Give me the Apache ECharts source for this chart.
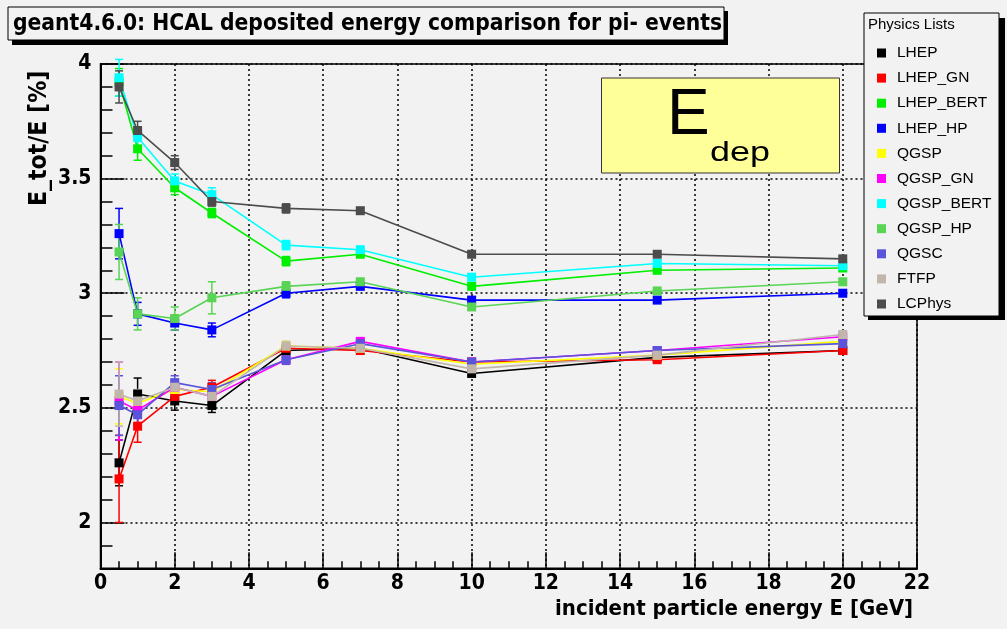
<!DOCTYPE html>
<html><head><meta charset="utf-8">
<script src="https://cdn.jsdelivr.net/npm/echarts@6/dist/echarts.min.js"></script>
<style>html,body{margin:0;padding:0;background:#f2f2f2}#c{width:1007px;height:629px}</style>
</head><body><div id="c"></div>
<script>
// ---- data ----
const energies = [0.5, 1, 2, 3, 5, 7, 10, 15, 20];
const seriesNames = ['LHEP','LHEP_GN','LHEP_BERT','LHEP_HP','QGSP','QGSP_GN','QGSP_BERT','QGSP_HP','QGSC','FTFP','LCPhys'];
const LHEP      = [2.26, 2.56, 2.53, 2.51, 2.75, 2.76, 2.65, 2.72, 2.75];
const LHEP_GN   = [2.19, 2.42, 2.55, 2.59, 2.76, 2.75, 2.70, 2.71, 2.75];
const LHEP_BERT = [3.92, 3.63, 3.46, 3.35, 3.14, 3.17, 3.03, 3.10, 3.11];
const LHEP_HP   = [3.26, 2.91, 2.87, 2.84, 3.00, 3.03, 2.97, 2.97, 3.00];
const QGSP      = [2.55, 2.52, 2.58, 2.57, 2.77, 2.76, 2.69, 2.73, 2.79];
const QGSP_GN   = [2.53, 2.49, 2.59, 2.55, 2.71, 2.79, 2.70, 2.75, 2.81];
const QGSP_BERT = [3.94, 3.68, 3.49, 3.43, 3.21, 3.19, 3.07, 3.13, 3.12];
const QGSP_HP   = [3.18, 2.91, 2.89, 2.98, 3.03, 3.05, 2.94, 3.01, 3.05];
const QGSC      = [2.51, 2.47, 2.61, 2.58, 2.71, 2.78, 2.70, 2.75, 2.78];
const FTFP      = [2.56, 2.53, 2.59, 2.55, 2.77, 2.76, 2.67, 2.73, 2.82];
const LCPhys    = [3.90, 3.71, 3.57, 3.40, 3.37, 3.36, 3.17, 3.17, 3.15];
// statistical errors (half widths)
const ERR_LHEP      = [0.10, 0.07, 0.04, 0.03, 0.02, 0.01, 0.01, 0.01, 0.01];
const ERR_LHEP_GN   = [0.19, 0.07, 0.03, 0.03, 0.02, 0.01, 0.01, 0.01, 0.01];
const ERR_LHEP_BERT = [0.06, 0.05, 0.03, 0.02, 0.02, 0.01, 0.01, 0.01, 0.01];
const ERR_LHEP_HP   = [0.11, 0.05, 0.03, 0.03, 0.02, 0.01, 0.01, 0.01, 0.01];
const ERR_QGSP      = [0.12, 0.05, 0.03, 0.03, 0.02, 0.01, 0.01, 0.01, 0.01];
const ERR_QGSP_GN   = [0.17, 0.06, 0.03, 0.03, 0.02, 0.01, 0.01, 0.01, 0.01];
const ERR_QGSP_BERT = [0.08, 0.04, 0.03, 0.03, 0.02, 0.01, 0.01, 0.01, 0.01];
const ERR_QGSP_HP   = [0.12, 0.07, 0.05, 0.07, 0.02, 0.01, 0.01, 0.01, 0.01];
const ERR_QGSC      = [0.13, 0.05, 0.03, 0.03, 0.02, 0.01, 0.01, 0.01, 0.01];
const ERR_FTFP      = [0.14, 0.05, 0.03, 0.03, 0.02, 0.01, 0.01, 0.01, 0.01];
const ERR_LCPhys    = [0.07, 0.04, 0.03, 0.02, 0.02, 0.01, 0.01, 0.01, 0.01];
const yTickValues = [2, 2.5, 3, 3.5, 4];

const values = [LHEP, LHEP_GN, LHEP_BERT, LHEP_HP, QGSP, QGSP_GN, QGSP_BERT, QGSP_HP, QGSC, FTFP, LCPhys];
const errors = [ERR_LHEP, ERR_LHEP_GN, ERR_LHEP_BERT, ERR_LHEP_HP, ERR_QGSP, ERR_QGSP_GN, ERR_QGSP_BERT, ERR_QGSP_HP, ERR_QGSC, ERR_FTFP, ERR_LCPhys];
const colors = ['#000000','#ff0000','#00ee00','#0000ff','#ffff00','#ff00ff','#00ffff','#59d454','#5954d9','#c0b6ac','#4c4c4c'];

const BOLD = "'DejaVu Sans Condensed','Liberation Sans',sans-serif";
const REG = "'Liberation Sans',Arial,sans-serif";

const series = [];
seriesNames.forEach((name, i) => {
  series.push({
    type: 'custom', name: name + '_err', silent: true, z: 2,
    data: energies.map((e, k) => [e, values[i][k] - errors[i][k], values[i][k] + errors[i][k]]),
    renderItem: function (params, api) {
      const a = api.coord([api.value(0), api.value(1)]);
      const b = api.coord([api.value(0), api.value(2)]);
      const st = { stroke: colors[i], lineWidth: 1.5 };
      return { type: 'group', children: [
        { type: 'line', shape: { x1: a[0], y1: a[1], x2: b[0], y2: b[1] }, style: st },
        { type: 'line', shape: { x1: a[0] - 4, y1: a[1], x2: a[0] + 4, y2: a[1] }, style: st },
        { type: 'line', shape: { x1: b[0] - 4, y1: b[1], x2: b[0] + 4, y2: b[1] }, style: st }
      ]};
    }
  });
  series.push({
    type: 'line', name: name, z: 3,
    data: energies.map((e, k) => [e, values[i][k]]),
    symbol: 'rect', symbolSize: 9,
    lineStyle: { color: colors[i], width: 1.6 },
    itemStyle: { color: colors[i] },
    emphasis: { disabled: true }
  });
});

const chart = echarts.init(document.getElementById('c'), null, { renderer: 'canvas' });
chart.setOption({
  backgroundColor: '#f2f2f2',
  animation: false,
  color: colors,
  grid: { left: 100.5, top: 64, width: 816.5, height: 504.3, outerBoundsMode: 'none', containLabel: false, show: true, borderColor: '#000', borderWidth: 1.5, backgroundColor: 'transparent' },
  legend: {
    data: seriesNames, orient: 'vertical', left: 872, top: 40, z: 30,
    icon: 'rect', itemWidth: 9, itemHeight: 9, itemGap: 9.1,
    textStyle: { fontFamily: REG, fontSize: 15.5, color: '#000', padding: [0, 0, 0, 6] },
    selectedMode: false
  },
  xAxis: {
    type: 'value', min: 0, max: 22, interval: 2,
    name: 'incident particle energy E [GeV]', nameLocation: 'end', nameGap: -4,
    nameTextStyle: { fontFamily: BOLD, fontWeight: 'bold', fontSize: 22, color: '#000', align: 'right', verticalAlign: 'top', padding: [30, 0, 0, 0] },
    axisLine: { show: true, onZero: false, lineStyle: { color: '#000', width: 2 } },
    axisTick: { show: true, inside: true, length: 16, lineStyle: { color: '#000', width: 1.5 } },
    minorTick: { show: true, splitNumber: 4, length: 7, lineStyle: { color: '#000', width: 1.5 } },
    axisLabel: { fontFamily: BOLD, fontWeight: 'bold', fontSize: 21, color: '#000', margin: 5 },
    splitLine: { show: true, lineStyle: { color: '#000', width: 1.5, type: [2, 3] } }
  },
  yAxis: [{
    type: 'value', min: 1.8, max: 4, interval: 0.1,
    axisLine: { show: true, onZero: false, lineStyle: { color: '#000', width: 2 } },
    axisTick: { show: true, inside: true, length: 12, lineStyle: { color: '#000', width: 1.5 } },
    axisLabel: { show: false },
    splitLine: { show: false }
  }, {
    type: 'value', min: 1.8, max: 4, position: 'left',
    axisLine: { show: false },
    axisTick: { show: true, inside: true, length: 24, customValues: yTickValues, lineStyle: { color: '#000', width: 1.5 } },
    axisLabel: { show: true, customValues: yTickValues, fontFamily: BOLD, fontWeight: 'bold', fontSize: 21, color: '#000', margin: 9 },
    splitLine: { show: true, lineStyle: { color: '#000', width: 1.5, type: [2, 3] } }
  }],
  graphic: [
    { type: 'rect', shape: { x: 12, y: 11, width: 716, height: 34 }, style: { fill: '#000' }, z: 10 },
    { type: 'rect', shape: { x: 8, y: 7, width: 716, height: 33 }, style: { fill: '#f2f2f2', stroke: '#000', lineWidth: 1 }, z: 11 },
    { type: 'text', x: 13, y: 24, z: 12, style: { text: 'geant4.6.0: HCAL deposited energy comparison for pi- events', font: "bold 22.6px " + BOLD, fill: '#000', verticalAlign: 'middle' } },
    { type: 'rect', shape: { x: 868, y: 18, width: 137, height: 302 }, style: { fill: '#000' }, z: 10 },
    { type: 'rect', shape: { x: 864, y: 13, width: 135, height: 303 }, style: { fill: '#f2f2f2', stroke: '#000', lineWidth: 1 }, z: 11 },
    { type: 'text', x: 868, y: 25, z: 12, style: { text: 'Physics Lists', font: "15px " + REG, fill: '#000', verticalAlign: 'middle' } },
    { type: 'rect', shape: { x: 601.5, y: 78, width: 238, height: 95 }, style: { fill: '#ffff99', stroke: '#333', lineWidth: 1 }, z: 11 },
    { type: 'text', x: 667, y: 116, z: 12, style: { text: 'E', font: "64px " + REG, fill: '#000', verticalAlign: 'middle' } },
    { type: 'text', x: 710, y: 154, scaleX: 1.33, z: 12, style: { text: 'dep', font: "27px " + REG, fill: '#000', verticalAlign: 'middle' } },
    { type: 'text', x: 40, y: 206, rotation: Math.PI / 2, z: 12, style: { text: 'E_tot/E [%]', font: "bold 24.5px " + BOLD, fill: '#000', verticalAlign: 'middle', align: 'left' } }
  ],
  series: series
});
</script></body></html>
